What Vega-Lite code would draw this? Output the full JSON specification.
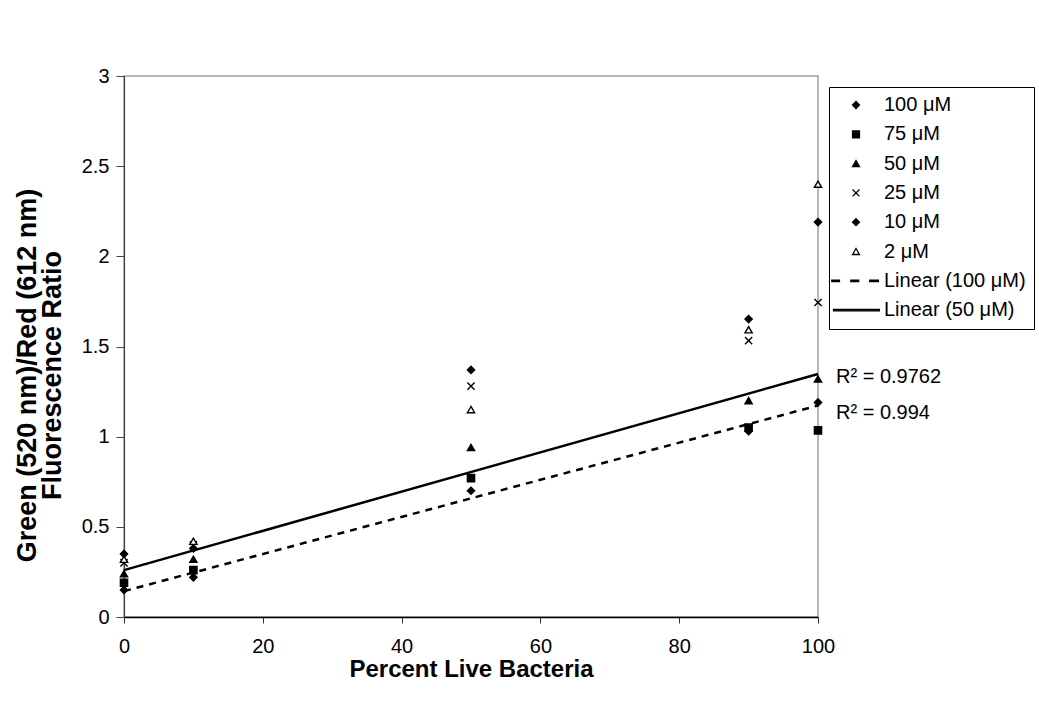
{
  "$schema": "https://vega.github.io/schema/vega-lite/v6.json",
  "width": 694,
  "height": 541,
  "autosize": {"type": "none"},
  "padding": {"left": 124, "top": 76, "right": 221, "bottom": 98},
  "background": "white",
  "config": {
    "font": "Liberation Sans",
    "view": {"stroke": "#a0a0a0", "strokeWidth": 1.5},
    "legend": {
      "title": null, "orient": "none", "legendX": 705, "legendY": 11,
      "strokeColor": "black", "padding": 8, "fillColor": "white",
      "labelFontSize": 20, "labelColor": "black", "labelOffset": 18,
      "symbolOffset": 9,
      "symbolSize": 48, "symbolStrokeColor": "black", "rowPadding": 9.3,
      "labelLimit": 300,
      "symbolOpacity": 1
    }
  },
  "data": {
    "values": [
      {"x": 0, "y": 0.15, "series": "100 μM"},
      {"x": 10, "y": 0.22, "series": "100 μM"},
      {"x": 50, "y": 0.70, "series": "100 μM"},
      {"x": 90, "y": 1.03, "series": "100 μM"},
      {"x": 100, "y": 1.19, "series": "100 μM"},
      {"x": 0, "y": 0.19, "series": "75 μM"},
      {"x": 10, "y": 0.26, "series": "75 μM"},
      {"x": 50, "y": 0.77, "series": "75 μM"},
      {"x": 90, "y": 1.05, "series": "75 μM"},
      {"x": 100, "y": 1.035, "series": "75 μM"},
      {"x": 0, "y": 0.24, "series": "50 μM"},
      {"x": 10, "y": 0.32, "series": "50 μM"},
      {"x": 50, "y": 0.94, "series": "50 μM"},
      {"x": 90, "y": 1.20, "series": "50 μM"},
      {"x": 100, "y": 1.32, "series": "50 μM"},
      {"x": 0, "y": 0.30, "series": "25 μM"},
      {"x": 10, "y": 0.40, "series": "25 μM"},
      {"x": 50, "y": 1.28, "series": "25 μM"},
      {"x": 90, "y": 1.533, "series": "25 μM"},
      {"x": 100, "y": 1.744, "series": "25 μM"},
      {"x": 0, "y": 0.35, "series": "10 μM"},
      {"x": 10, "y": 0.38, "series": "10 μM"},
      {"x": 50, "y": 1.37, "series": "10 μM"},
      {"x": 90, "y": 1.652, "series": "10 μM"},
      {"x": 100, "y": 2.19, "series": "10 μM"},
      {"x": 0, "y": 0.32, "series": "2 μM"},
      {"x": 10, "y": 0.42, "series": "2 μM"},
      {"x": 50, "y": 1.15, "series": "2 μM"},
      {"x": 90, "y": 1.593, "series": "2 μM"},
      {"x": 100, "y": 2.40, "series": "2 μM"}
    ]
  },
  "layer": [
    {
      "transform": [
        {"filter": "datum.series === '100 μM'"},
        {"regression": "y", "on": "x", "method": "linear", "extent": [0, 100]}
      ],
      "mark": {"type": "line", "color": "black", "strokeWidth": 2.5, "strokeDash": [7, 6]},
      "encoding": {
        "x": {"field": "x", "type": "quantitative"},
        "y": {"field": "y", "type": "quantitative"}
      }
    },
    {
      "transform": [
        {"filter": "datum.series === '50 μM'"},
        {"regression": "y", "on": "x", "method": "linear", "extent": [0, 100]}
      ],
      "mark": {"type": "line", "color": "black", "strokeWidth": 2.5},
      "encoding": {
        "x": {"field": "x", "type": "quantitative"},
        "y": {"field": "y", "type": "quantitative"}
      }
    },
    {
      "mark": {"type": "point", "opacity": 1, "strokeOpacity": 1, "strokeWidth": 1.4, "clip": false},
      "encoding": {
        "x": {
          "field": "x", "type": "quantitative",
          "scale": {"domain": [0, 100], "nice": false},
          "axis": {
            "title": "Percent Live Bacteria",
            "values": [0, 20, 40, 60, 80, 100],
            "grid": false,
            "domainColor": "black", "domainWidth": 1.5,
            "tickColor": "#333", "tickSize": 6, "tickWidth": 1,
            "labelFontSize": 20, "labelColor": "black", "labelPadding": 13,
            "labelFlush": false,
            "titleFontSize": 24, "titleFontWeight": "bold", "titleColor": "black",
            "titlePadding": 1
          }
        },
        "y": {
          "field": "y", "type": "quantitative",
          "scale": {"domain": [0, 3], "nice": false},
          "axis": {
            "title": ["Green (520 nm)/Red (612 nm)", "Fluorescence Ratio"],
            "values": [0, 0.5, 1, 1.5, 2, 2.5, 3],
            "format": "~g",
            "grid": false,
            "domainColor": "#444", "domainWidth": 1.2,
            "tickColor": "#444", "tickSize": 8, "tickWidth": 1,
            "labelFontSize": 20, "labelColor": "black", "labelPadding": 7,
            "labelFlush": false,
            "titleFontSize": 27, "titleFontWeight": "bold", "titleColor": "black",
            "titleLineHeight": 25,
            "titlePadding": 15,
            "titleY": 299
          }
        },
        "shape": {
          "field": "series", "type": "nominal",
          "scale": {
            "domain": ["100 μM", "75 μM", "50 μM", "25 μM", "10 μM", "2 μM", "Linear (100 μM)", "Linear (50 μM)"],
            "range": ["diamond", "square", "triangle-up", "M-1,-1L1,1M-1,1L1,-1", "diamond", "triangle-up", "M-6.99,-0.2H-4.78V0.2H-6.99ZM-1.49,-0.2H0.78V0.2H-1.49ZM3.97,-0.2H6.45V0.2H3.97Z", "M-6.48,-0.2H6.75V0.2H-6.48Z"]
          },
          "legend": {
            "symbolStrokeWidth": 1.3,
            "encode": {
              "symbols": {
                "update": {
                  "opacity": {"value": 1},
                  "strokeOpacity": {"value": 1},
                  "stroke": {"value": "black"}
                }
              }
            }
          }
        },
        "fill": {
          "field": "series", "type": "nominal",
          "scale": {
            "domain": ["100 μM", "75 μM", "50 μM", "25 μM", "10 μM", "2 μM", "Linear (100 μM)", "Linear (50 μM)"],
            "range": ["black", "black", "black", "transparent", "black", "white", "black", "black"]
          }
        },
        "stroke": {
          "field": "series", "type": "nominal",
          "scale": {
            "domain": ["100 μM", "75 μM", "50 μM", "25 μM", "10 μM", "2 μM", "Linear (100 μM)", "Linear (50 μM)"],
            "range": ["black", "black", "black", "black", "black", "black", "black", "black"]
          }
        },
        "size": {"value": 52}
      }
    },
    {
      "data": {"values": [{"label": "R² = 0.9762", "x": 100, "y": 1.333}, {"label": "R² = 0.994", "x": 100, "y": 1.13}]},
      "mark": {"type": "text", "align": "left", "baseline": "middle", "fontSize": 20, "dx": 18, "color": "black", "clip": false},
      "encoding": {
        "x": {"field": "x", "type": "quantitative"},
        "y": {"field": "y", "type": "quantitative"},
        "text": {"field": "label"}
      }
    }
  ]
}
